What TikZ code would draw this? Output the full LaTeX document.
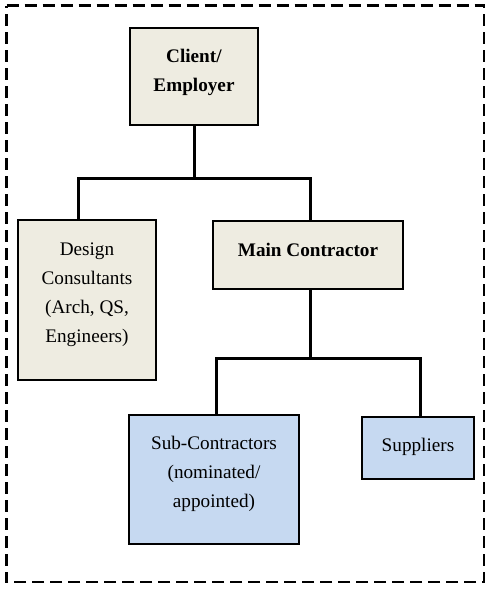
\documentclass[tikz,border=0pt]{standalone}
\usepackage{fontspec}
\setmainfont{Liberation Serif}
\usetikzlibrary{calc}
\definecolor{beige}{HTML}{EEECE1}
\definecolor{lblue}{HTML}{C6D9F1}
\tikzset{
  box/.style={draw=black, line width=1.8pt, rectangle, inner sep=0pt},
  beigebox/.style={box, fill=beige},
  bluebox/.style={box, fill=lblue},
  txt/.style={align=center, font=\fontsize{19.2}{29}\selectfont, inner sep=0pt},
  conn/.style={line width=3pt, line join=miter},
  frame/.style={line width=2.2pt, dash pattern=on 12pt off 6pt}
}
\begin{document}
\begin{tikzpicture}[x=1pt,y=-1pt]
\useasboundingbox (0,0) rectangle (490,590);
\draw[frame] (6.5,5.5) -- (484,5.5) -- (484,582) -- (6.5,582) -- cycle;
% boxes
\node[beigebox, minimum width=128pt, minimum height=97pt] (client) at (194,76.5) {};
\node[beigebox, minimum width=138pt, minimum height=160pt] (design) at (87,300) {};
\node[beigebox, minimum width=190pt, minimum height=68pt] (main) at (308,255) {};
\node[bluebox, minimum width=170pt, minimum height=129pt] (sub) at (214,479.5) {};
\node[bluebox, minimum width=112pt, minimum height=62pt] (supp) at (418,448) {};
% texts
\node[txt] (clientt) at (194,72.5) {\textbf{Client/}\\\textbf{Employer}};
\node[txt] (designt) at (87,294.5) {Design\\Consultants\\(Arch, QS,\\Engineers)};
\node[txt] (maint) at (308,250) {\textbf{Main Contractor}};
\node[txt] (subt) at (214,474) {Sub-Contractors\\(nominated/\\appointed)};
\node[txt] (suppt) at (418,447) {Suppliers};
% connectors
\coordinate (j1) at (194,178);
\coordinate (j2) at (310,358);
\draw[conn] (client.south) -- (j1);
\draw[conn] ([xshift=-9pt]design.north) |- (j1) -| ([xshift=2pt]main.north);
\draw[conn] ([xshift=2pt]main.south) -- (j2);
\draw[conn] ([xshift=2pt]sub.north) |- (j2) -| ([xshift=2pt]supp.north);
\end{tikzpicture}
\end{document}
